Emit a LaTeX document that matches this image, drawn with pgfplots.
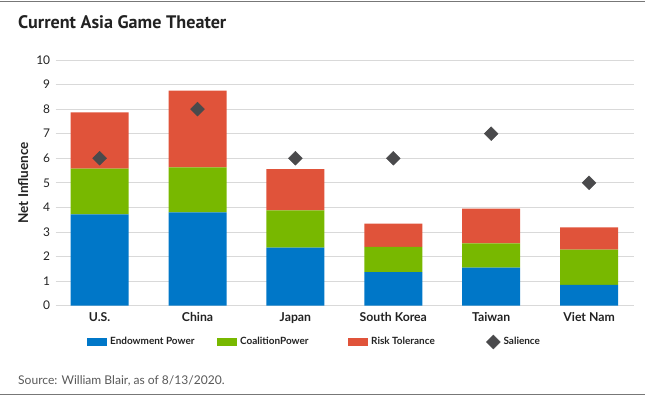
\documentclass[border=0pt]{standalone}
\usepackage{pgfplots}
\pgfplotsset{compat=1.18}
\usepackage{fontspec}
\setmainfont{Lato}
\newfontfamily\titlefont{PT Sans}
\definecolor{cblue}{HTML}{0077C8}
\definecolor{cgreen}{HTML}{78B800}
\definecolor{cred}{HTML}{E0533A}
\definecolor{cdia}{HTML}{4A4A4C}
\definecolor{cgrid}{HTML}{D9D9D9}
\definecolor{cline}{HTML}{777777}
\definecolor{ctext}{HTML}{222222}
\pgfplotstableread{
x endow coal risk sal
0 3.72 1.86 2.29 6
1 3.80 1.83 3.12 8
2 2.36 1.52 1.68 6
3 1.37 1.02 0.95 6
4 1.55 0.99 1.41 7
5 0.85 1.43 0.91 5
}\data
\begin{document}
\begin{tikzpicture}
\path[use as bounding box] (0,0) rectangle (645bp,398bp);
\draw[cline, line width=1.2bp] (0,396.6bp) -- (645bp,396.6bp);
\draw[cline, line width=1.2bp] (0,3.6bp) -- (645bp,3.6bp);
\node[anchor=base west, inner sep=0pt, text=ctext, font=\titlefont\bfseries\fontsize{18.2}{22}\selectfont] at (18bp,369bp) {Current Asia Game Theater};
\node[anchor=base west, inner sep=0pt, text=black!65, font=\fontsize{12.1}{14}\selectfont] at (18bp,14bp) {Source: William Blair, as of 8/13/2020.};
\begin{axis}[
  at={(55.7bp,92.3bp)}, anchor=south west,
  scale only axis, width=578.3bp, height=245.7bp,
  ymin=0, ymax=10, ytick={0,...,10},
  xmin=-0.449, xmax=5.459, xtick={0,...,5},
  xticklabels={U.S.,China,Japan,South Korea,Taiwan,Viet Nam},
  axis line style={draw=none}, major tick length=0pt,
  ymajorgrids, grid style={cgrid, line width=0.9bp},
  ybar stacked, bar width=58bp,
  ylabel={\bfseries Net Influence},
  ylabel style={font=\fontsize{13.6}{15}\selectfont, text=ctext, at={(axis description cs:0,0.5)}, anchor=south, yshift=24bp},
  y tick label style={font=\fontsize{12}{13}\selectfont, text=ctext, xshift=-2bp},
  x tick label style={font=\bfseries\fontsize{12.3}{13}\selectfont, text=ctext, yshift=-3bp},
  /pgf/number format/assume math mode=true,
  clip=false,
  legend columns=4,
  legend style={draw=none, fill=none, inner sep=0pt, at={(rel axis cs:0.0541,-0.1477)}, anchor=west,
    font=\bfseries\fontsize{10}{11}\selectfont, text=ctext,
    /tikz/every even column/.append style={column sep=0pt},
    nodes={inner xsep=3bp}},
  legend image code/.code={\fill[#1] (0bp,-4bp) rectangle (20bp,4bp);},
]
\addplot[fill=cblue, draw=none] table[x=x, y=endow] {\data};
\addlegendentry{\makebox[104bp][l]{Endowment Power}}
\addplot[fill=cgreen, draw=none] table[x=x, y=coal] {\data};
\addlegendentry{\makebox[105bp][l]{CoalitionPower}}
\addplot[fill=cred, draw=none] table[x=x, y=risk] {\data};
\addlegendentry{\makebox[112bp][l]{Risk Tolerance}}
\addlegendimage{legend image code/.code={\fill[cdia] (10bp,0bp) ++(0,-7bp) -- ++(7bp,7bp) -- ++(-7bp,7bp) -- ++(-7bp,-7bp) -- cycle;}}
\addlegendentry{Salience}
\end{axis}
\begin{axis}[
  at={(55.7bp,92.3bp)}, anchor=south west,
  scale only axis, width=578.3bp, height=245.7bp,
  ymin=0, ymax=10, xmin=-0.449, xmax=5.459,
  axis lines=none, clip=false,
]
\addplot[only marks, mark=square*, mark size=4.9bp, mark options={rotate=45, fill=cdia, draw=cdia}] table[x=x, y=sal] {\data};
\end{axis}
\end{tikzpicture}
\end{document}
